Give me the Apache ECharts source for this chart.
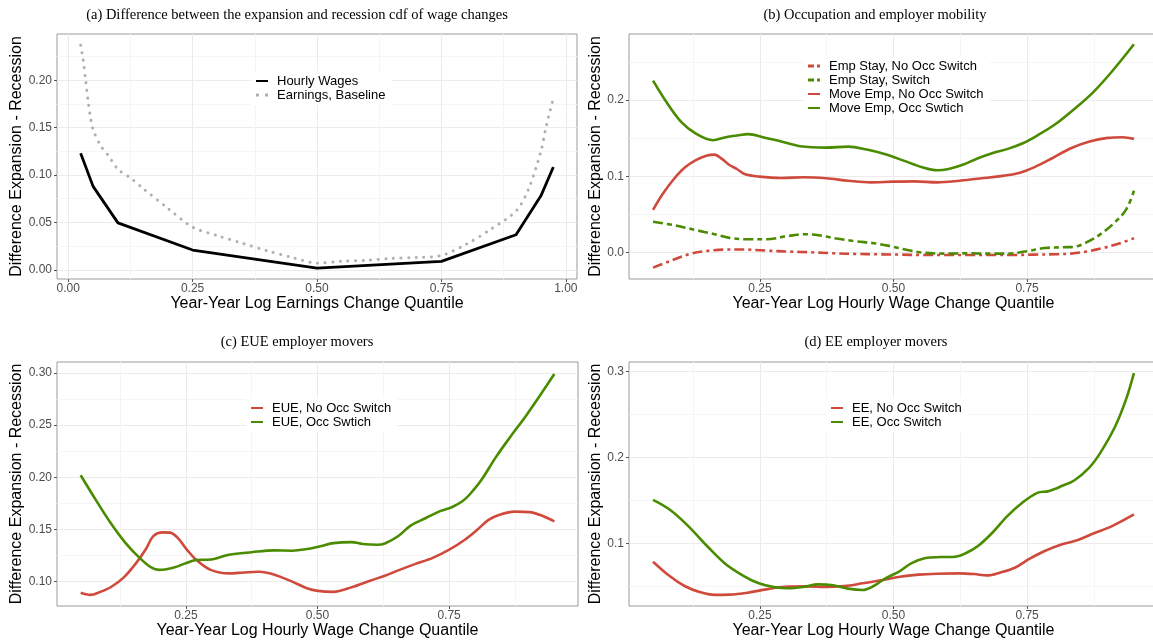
<!DOCTYPE html>
<html>
<head>
<meta charset="utf-8">
<script src="https://cdn.jsdelivr.net/npm/echarts@6.0.0/dist/echarts.min.js"></script>
<style>
html, body { margin: 0; padding: 0; background: #fff; }
#chart { width: 1153px; height: 643px; }
</style>
</head>
<body>
<div id="chart"></div>
<script>
// ---- panel (a): cdf difference, hourly wages vs earnings ----
var aHourlyWages = [[0.025, 0.123], [0.05, 0.088], [0.10, 0.0495], [0.25, 0.0208], [0.50, 0.0018],
  [0.75, 0.0088], [0.90, 0.037], [0.95, 0.078], [0.975, 0.1085]]
var aEarnings = [[0.025, 0.237], [0.03, 0.222], [0.035, 0.2], [0.04, 0.178], [0.045, 0.16], [0.05, 0.148],
  [0.065, 0.131], [0.08, 0.121], [0.10, 0.106], [0.125, 0.097], [0.15, 0.086], [0.20, 0.065], [0.25, 0.045],
  [0.30, 0.036], [0.35, 0.028], [0.40, 0.02], [0.45, 0.013], [0.50, 0.007], [0.55, 0.009], [0.60, 0.010],
  [0.65, 0.012], [0.70, 0.013], [0.75, 0.015], [0.80, 0.027], [0.85, 0.043], [0.90, 0.062], [0.925, 0.085],
  [0.95, 0.125], [0.96, 0.15], [0.975, 0.181]]

// ---- panel (b): occupation and employer mobility ----
var bStayNoOcc = [[0.05, -0.0197], [0.082, -0.011], [0.117, -0.0022], [0.151, 0.0022], [0.186, 0.004],
  [0.221, 0.004], [0.263, 0.0026], [0.304, 0.0013], [0.346, 0.0004], [0.388, -0.0009], [0.429, -0.0018],
  [0.471, -0.0022], [0.513, -0.0026], [0.554, -0.0031], [0.596, -0.0031], [0.638, -0.0031], [0.679, -0.0031],
  [0.721, -0.0031], [0.763, -0.0026], [0.804, -0.0022], [0.832, -0.0013], [0.86, 0.0013], [0.888, 0.0053],
  [0.922, 0.0118], [0.95, 0.0189]]
var bStaySwitch = [[0.05, 0.0404], [0.089, 0.036], [0.131, 0.0294], [0.165, 0.0241], [0.193, 0.0193],
  [0.228, 0.0175], [0.263, 0.0175], [0.297, 0.0211], [0.332, 0.0241], [0.36, 0.0228], [0.394, 0.0184],
  [0.429, 0.0149], [0.464, 0.0123], [0.492, 0.0088], [0.526, 0.0035], [0.554, 0.0], [0.596, -0.0013],
  [0.638, -0.0009], [0.679, -0.0013], [0.714, -0.0013], [0.749, 0.0018], [0.783, 0.0061], [0.818, 0.007],
  [0.84, 0.0078], [0.86, 0.013], [0.885, 0.023], [0.91, 0.037], [0.935, 0.056], [0.95, 0.0811]]
var bMoveNoOcc = [[0.05, 0.0561], [0.068, 0.0768], [0.089, 0.0965], [0.11, 0.1118], [0.131, 0.1215],
  [0.151, 0.1272], [0.165, 0.1285], [0.179, 0.1228], [0.193, 0.1149], [0.207, 0.1096], [0.221, 0.1031],
  [0.249, 0.0996], [0.29, 0.0978], [0.332, 0.0987], [0.374, 0.0974], [0.415, 0.0943], [0.457, 0.0921],
  [0.499, 0.093], [0.54, 0.0934], [0.582, 0.0921], [0.624, 0.0943], [0.665, 0.0974], [0.707, 0.1009],
  [0.735, 0.1044], [0.763, 0.1118], [0.797, 0.1237], [0.832, 0.1368], [0.867, 0.1456], [0.901, 0.1504],
  [0.929, 0.1513], [0.95, 0.1491]]
var bMoveOcc = [[0.05, 0.2254], [0.075, 0.1974], [0.103, 0.1711], [0.131, 0.1557], [0.162, 0.1474],
  [0.186, 0.1513], [0.207, 0.1535], [0.228, 0.1553], [0.256, 0.1513], [0.29, 0.1456], [0.325, 0.1395],
  [0.374, 0.1377], [0.415, 0.139], [0.45, 0.1351], [0.485, 0.1289], [0.519, 0.1206], [0.554, 0.1118],
  [0.582, 0.1079], [0.603, 0.1096], [0.631, 0.1154], [0.658, 0.1237], [0.686, 0.1307], [0.714, 0.136],
  [0.742, 0.1434], [0.769, 0.1535], [0.804, 0.1689], [0.839, 0.1886], [0.874, 0.2105], [0.908, 0.2368],
  [0.95, 0.2732]]

// ---- panel (c): EUE employer movers ----
var cNoOcc = [[0.05, 0.089], [0.068, 0.087], [0.086, 0.0896], [0.107, 0.0943], [0.132, 0.1038],
  [0.156, 0.118], [0.174, 0.131], [0.188, 0.1434], [0.206, 0.147], [0.22, 0.1468], [0.234, 0.142],
  [0.251, 0.131], [0.269, 0.121], [0.297, 0.111], [0.332, 0.1076], [0.36, 0.1085], [0.389, 0.1092],
  [0.417, 0.1066], [0.452, 0.0997], [0.48, 0.0934], [0.501, 0.0908], [0.53, 0.0899], [0.565, 0.0943],
  [0.6, 0.1006], [0.628, 0.1054], [0.656, 0.111], [0.685, 0.1165], [0.72, 0.1228], [0.752, 0.131],
  [0.78, 0.14], [0.804, 0.1497], [0.825, 0.159], [0.846, 0.164], [0.875, 0.167], [0.903, 0.1665],
  [0.927, 0.163], [0.95, 0.1576]]
var cOcc = [[0.05, 0.2019], [0.079, 0.178], [0.107, 0.156], [0.135, 0.137], [0.163, 0.122],
  [0.184, 0.1133], [0.199, 0.111], [0.227, 0.1133], [0.248, 0.117], [0.269, 0.1205], [0.297, 0.121],
  [0.332, 0.1256], [0.375, 0.128], [0.417, 0.1297], [0.452, 0.1294], [0.48, 0.131], [0.508, 0.134],
  [0.53, 0.1367], [0.565, 0.1377], [0.586, 0.1358], [0.614, 0.1351], [0.628, 0.1364], [0.653, 0.1433],
  [0.677, 0.1535], [0.706, 0.1608], [0.734, 0.1677], [0.755, 0.1712], [0.776, 0.1772], [0.79, 0.1839],
  [0.811, 0.197], [0.839, 0.2193], [0.868, 0.2399], [0.896, 0.2589], [0.924, 0.2794], [0.95, 0.2991]]

// ---- panel (d): EE employer movers ----
var dNoOcc = [[0.05, 0.0787], [0.081, 0.062], [0.109, 0.0504], [0.137, 0.0434], [0.165, 0.04],
  [0.192, 0.0403], [0.227, 0.0426], [0.262, 0.0465], [0.297, 0.0496], [0.338, 0.05], [0.373, 0.0492],
  [0.408, 0.0504], [0.442, 0.0535], [0.477, 0.057], [0.512, 0.0612], [0.547, 0.0636], [0.581, 0.0647],
  [0.623, 0.0651], [0.651, 0.0643], [0.675, 0.0628], [0.699, 0.0659], [0.727, 0.0717], [0.755, 0.0822],
  [0.783, 0.0911], [0.817, 0.0992], [0.845, 0.1039], [0.873, 0.1112], [0.908, 0.1198], [0.95, 0.1337]]
var dOcc = [[0.05, 0.1508], [0.081, 0.1395], [0.116, 0.1202], [0.151, 0.097], [0.185, 0.0764],
  [0.22, 0.062], [0.248, 0.0535], [0.276, 0.0492], [0.303, 0.0477], [0.331, 0.0492], [0.359, 0.0523],
  [0.387, 0.0512], [0.415, 0.0473], [0.442, 0.0457], [0.463, 0.0504], [0.484, 0.0589], [0.512, 0.0678],
  [0.533, 0.0767], [0.56, 0.0829], [0.588, 0.0841], [0.616, 0.0845], [0.637, 0.0891], [0.658, 0.0969],
  [0.685, 0.1124], [0.713, 0.1318], [0.741, 0.1473], [0.769, 0.1589], [0.79, 0.1609], [0.817, 0.1674],
  [0.838, 0.1733], [0.866, 0.188], [0.887, 0.2054], [0.915, 0.2364], [0.935, 0.2674], [0.95, 0.2984]]

// tick values (major / minor gridlines)
var aXTicks = [0, 0.25, 0.5, 0.75, 1]
var aXMinor = [0.125, 0.375, 0.625, 0.875]
var aYTicks = [0, 0.05, 0.1, 0.15, 0.2]
var aYMinor = [0.025, 0.075, 0.125, 0.175, 0.225]
var qXTicks = [0.25, 0.5, 0.75]
var qXMinor = [0.125, 0.375, 0.625, 0.875]
var bYTicks = [0, 0.1, 0.2]
var bYMinor = [0.05, 0.15, 0.25]
var cYTicks = [0.1, 0.15, 0.2, 0.25, 0.3]
var cYMinor = [0.125, 0.175, 0.225, 0.275]
var dYTicks = [0.1, 0.2, 0.3]
var dYMinor = [0.05, 0.15, 0.25]

var red = '#CF4A3C'
var green = '#4A8B00'
var sans = 'Liberation Sans'
var yTitle = 'Difference Expansion - Recession'
// legend key for the dash-dot lines
var dashKey = 'path://M0,0h6v3h-6z M9,0h3v3h-3z'

var panels = [
  {
    title: '(a) Difference between the expansion and recession cdf of wage changes', tx: 297, ty: 15,
    grid: { left: 57, top: 34, width: 520, height: 245 },
    xName: 'Year-Year Log Earnings Change Quantile', xMin: -0.0225, xMax: 1.0225,
    xTicks: aXTicks, xMinor: aXMinor, yMin: -0.00975, yMax: 0.2488, yTicks: aYTicks, yMinor: aYMinor,
    yDigits: 2, yGap: 31, legend: { left: 251, top: 71 },
    series: [
      { name: 'Hourly Wages', data: aHourlyWages, color: '#000', type: 'solid', width: 2.8, smooth: false },
      { name: 'Earnings, Baseline', data: aEarnings, color: '#B0B0B0', type: [0.1, 7.5], width: 3, smooth: 0.3, cap: 'round',
        key: 'path://M0,0h3v3h-3z M9,0h3v3h-3z' }
    ]
  },
  {
    title: '(b) Occupation and employer mobility', tx: 875, ty: 15,
    grid: { left: 629, top: 34, width: 529, height: 245 },
    xName: 'Year-Year Log Hourly Wage Change Quantile', xMin: 0.005, xMax: 0.995,
    xTicks: qXTicks, xMinor: qXMinor, yMin: -0.0346, yMax: 0.2866, yTicks: bYTicks, yMinor: bYMinor,
    yDigits: 1, yGap: 24, legend: { left: 803, top: 56 },
    series: [
      { name: 'Emp Stay, No Occ Switch', data: bStayNoOcc, color: red, type: [10, 4, 3, 4], key: dashKey },
      { name: 'Emp Stay, Switch', data: bStaySwitch, color: green, type: [10, 4, 5, 4], key: dashKey },
      { name: 'Move Emp, No Occ Switch', data: bMoveNoOcc, color: red, type: 'solid' },
      { name: 'Move Emp, Occ Swtich', data: bMoveOcc, color: green, type: 'solid' }
    ]
  },
  {
    title: '(c) EUE employer movers', tx: 297, ty: 342,
    grid: { left: 57, top: 362, width: 521, height: 244 },
    xName: 'Year-Year Log Hourly Wage Change Quantile', xMin: 0.005, xMax: 0.995,
    xTicks: qXTicks, xMinor: qXMinor, yMin: 0.0763, yMax: 0.3107, yTicks: cYTicks, yMinor: cYMinor,
    yDigits: 2, yGap: 31, legend: { left: 246, top: 398 },
    series: [
      { name: 'EUE, No Occ Switch', data: cNoOcc, color: red, type: 'solid' },
      { name: 'EUE, Occ Swtich', data: cOcc, color: green, type: 'solid' }
    ]
  },
  {
    title: '(d) EE employer movers', tx: 876, ty: 342,
    grid: { left: 629, top: 362, width: 529, height: 244 },
    xName: 'Year-Year Log Hourly Wage Change Quantile', xMin: 0.005, xMax: 0.995,
    xTicks: qXTicks, xMinor: qXMinor, yMin: 0.0271, yMax: 0.3113, yTicks: dYTicks, yMinor: dYMinor,
    yDigits: 1, yGap: 24, legend: { left: 826, top: 398 },
    series: [
      { name: 'EE, No Occ Switch', data: dNoOcc, color: red, type: 'solid' },
      { name: 'EE, Occ Switch', data: dOcc, color: green, type: 'solid' }
    ]
  }
]

var option = {
  animation: false,
  backgroundColor: '#fff',
  grid: [], xAxis: [], yAxis: [], series: [], legend: [], graphic: []
}

panels.forEach(function (p, i) {
  option.grid.push(Object.assign({
    show: true, borderColor: '#9a9a9a', borderWidth: 1, backgroundColor: 'transparent', outerBoundsMode: 'none'
  }, p.grid))

  // main axes: labels, ticks, major gridlines
  option.xAxis.push({
    type: 'value', gridIndex: i, min: p.xMin, max: p.xMax, position: 'bottom',
    axisLine: { show: false, onZero: false },
    axisTick: { show: true, length: 3, customValues: p.xTicks, lineStyle: { color: '#555' } },
    axisLabel: {
      customValues: p.xTicks, margin: 4, fontSize: 12, color: '#4d4d4d', fontFamily: sans,
      formatter: function (v) { return v.toFixed(2) }
    },
    splitLine: { show: true, lineStyle: { color: '#EBEBEB', width: 1 } },
    name: p.xName, nameLocation: 'middle', nameGap: 16,
    nameTextStyle: { fontSize: 16, color: '#000', fontFamily: sans }
  })
  option.yAxis.push({
    type: 'value', gridIndex: i, min: p.yMin, max: p.yMax, position: 'left',
    axisLine: { show: false, onZero: false },
    axisTick: { show: true, length: 3, customValues: p.yTicks, lineStyle: { color: '#555' } },
    axisLabel: {
      customValues: p.yTicks, margin: 5, fontSize: 12, color: '#4d4d4d', fontFamily: sans,
      formatter: function (v) { return v.toFixed(p.yDigits) }
    },
    splitLine: { show: true, lineStyle: { color: '#EBEBEB', width: 1 } },
    name: yTitle, nameLocation: 'middle', nameGap: p.yGap,
    nameTextStyle: { fontSize: 16, color: '#000', fontFamily: sans }
  })
  // helper axes, only for the minor gridlines
  option.xAxis.push({
    type: 'value', gridIndex: i, min: p.xMin, max: p.xMax, position: 'top',
    axisLine: { show: false, onZero: false }, axisTick: { show: false, customValues: p.xMinor },
    axisLabel: { show: false, customValues: p.xMinor },
    splitLine: { show: true, lineStyle: { color: '#F5F5F5', width: 1 } }
  })
  option.yAxis.push({
    type: 'value', gridIndex: i, min: p.yMin, max: p.yMax, position: 'right',
    axisLine: { show: false, onZero: false }, axisTick: { show: false, customValues: p.yMinor },
    axisLabel: { show: false, customValues: p.yMinor },
    splitLine: { show: true, lineStyle: { color: '#F5F5F5', width: 1 } }
  })

  p.series.forEach(function (s) {
    option.series.push({
      type: 'line', name: s.name, data: s.data,
      xAxisIndex: i * 2, yAxisIndex: i * 2,
      symbol: 'none', showSymbol: false,
      smooth: s.smooth === undefined ? 0.35 : s.smooth,
      itemStyle: { color: s.color },
      lineStyle: { color: s.color, width: s.width || 2.6, type: s.type, cap: s.cap || 'butt' }
    })
  })

  option.legend.push({
    data: p.series.map(function (s) {
      if (s.key) return { name: s.name, icon: s.key, itemStyle: { opacity: 1, color: s.color } }
      return s.name
    }),
    left: p.legend.left, top: p.legend.top, orient: 'vertical',
    itemWidth: 12, itemHeight: 3, itemGap: 0,
    backgroundColor: '#fff', padding: [3, 6, 3, 4], selectedMode: false,
    itemStyle: { opacity: 0 },
    textStyle: { fontSize: 13, lineHeight: 14, color: '#000', fontFamily: sans, padding: [0, 0, 0, 4] }
  })

  option.graphic.push({
    type: 'text', x: p.tx, y: p.ty,
    style: {
      text: p.title, fill: '#000', fontSize: 14.5, fontFamily: 'Liberation Serif',
      align: 'center', verticalAlign: 'middle', textAlign: 'center', textVerticalAlign: 'middle'
    }
  })
})

var myChart = echarts.init(document.getElementById('chart'))
myChart.setOption(option)
</script>
</body>
</html>
